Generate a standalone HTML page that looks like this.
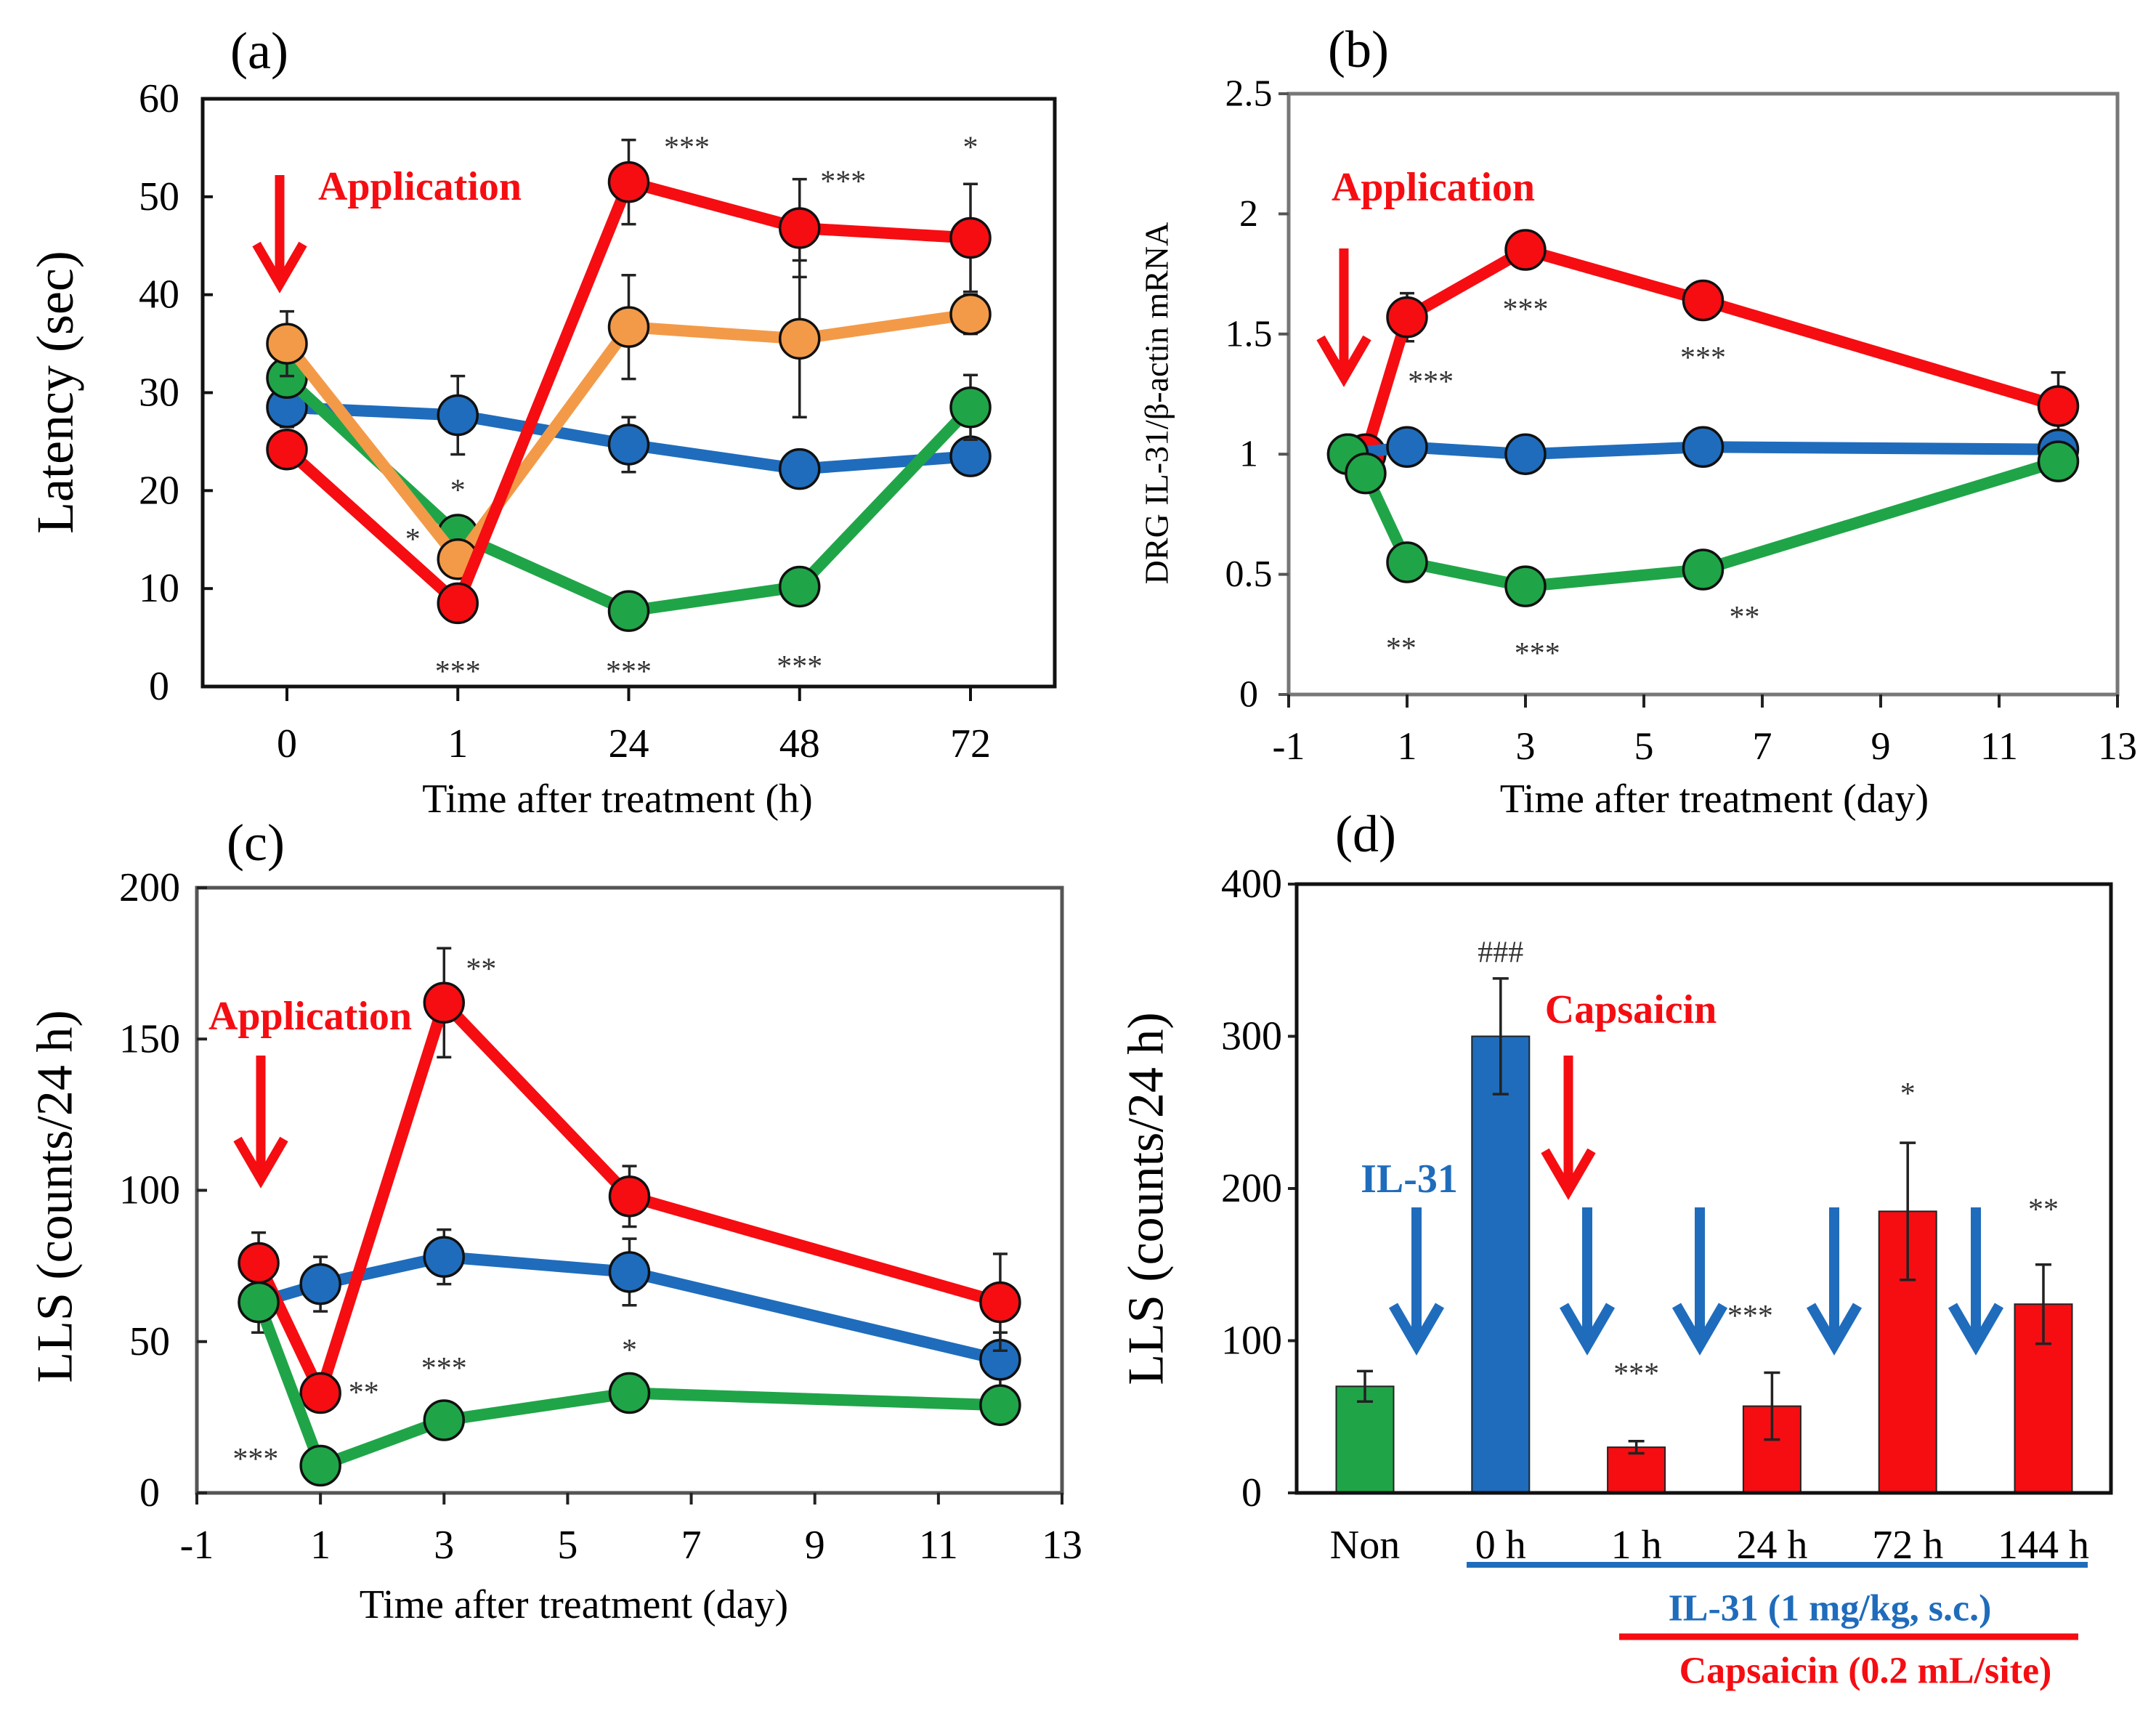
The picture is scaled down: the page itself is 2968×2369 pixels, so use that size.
<!DOCTYPE html>
<html><head><meta charset="utf-8"><style>
html,body{margin:0;padding:0;background:#fff;}
svg{display:block;}
text{font-family:"Liberation Serif",serif;}
</style></head><body>
<svg id="fig" width="2968" height="2369" viewBox="0 0 2968 2369" xmlns="http://www.w3.org/2000/svg"></svg>
<script>
// ---------- Panel (a) data ----------
const aCats = ["0","1","24","48","72"];
const aYTicks = [0,10,20,30,40,50,60];
const aBlue = [28.5,27.7,24.7,22.2,23.5];
const aBlueErr = [2,4,2.8,1,1];
const aGreen = [31.5,15.5,7.7,10.2,28.5];
const aGreenErr = [1,1,1,1,3.3];
const aOrange = [35,13,36.7,35.5,38];
const aOrangeErr = [3.3,1,5.3,8,2];
const aRed = [24.2,8.5,51.5,46.8,45.8];
const aRedErr = [1,1,4.3,5,5.5];
// ---------- Panel (b) data ----------
const bXTicks = [-1,1,3,5,7,9,11,13];
const bYTicks = [0,0.5,1,1.5,2,2.5];
const bYTickLabels = ["0","0.5","1","1.5","2","2.5"];
const bBlueX = [0,1,3,6,12];
const bBlue = [1.0,1.03,1.0,1.03,1.02];
const bGreenX = [0,0.3,1,3,6,12];
const bGreen = [1.0,0.92,0.55,0.45,0.52,0.97];
const bRedX = [0.3,1,3,6,12];
const bRed = [1.0,1.57,1.85,1.64,1.2];
const bRedErr = [0,0.1,0.02,0.02,0.14];
// ---------- Panel (c) data ----------
const cXTicks = [-1,1,3,5,7,9,11,13];
const cYTicks = [0,50,100,150,200];
const cX = [0,1,3,6,12];
const cBlue = [63,69,78,73,44];
const cBlueErr = [10,9,9,11,9];
const cGreen = [63,9,24,33,29];
const cRed = [76,33,162,98,63];
const cRedErr = [10,2,18,10,16];
// ---------- Panel (d) data ----------
const dCats = ["Non","0 h","1 h","24 h","72 h","144 h"];
const dVals = [70,300,30,57,185,124];
const dErrs = [10,38,4,22,45,26];
const dYTicks = [0,100,200,300,400];

const NS="http://www.w3.org/2000/svg";
const svg=document.getElementById('fig');
const RED="#f50d12",BLUE="#1f6cbc",GREEN="#1fa548",ORANGE="#f39a48";
const LW=16, MR=27, STAR=42, TICK=56;
function mk(tag,attrs,parent){const e=document.createElementNS(NS,tag);for(const k in attrs)e.setAttribute(k,attrs[k]);(parent||svg).appendChild(e);return e;}
function txt(s,x,y,size,attrs,parent){const t=mk('text',Object.assign({x:x,y:y,'font-size':size,'text-anchor':'middle','dominant-baseline':'central'},attrs||{}),parent);t.textContent=s;return t;}
function arrow(x,y1,y2,color,w,g){mk('line',{x1:x,y1:y1,x2:x,y2:y2-6,stroke:color,'stroke-width':w},g);mk('polyline',{points:(x-32)+','+(y2-55)+' '+x+','+y2+' '+(x+32)+','+(y2-55),fill:'none',stroke:color,'stroke-width':w},g);}
function series(g,xs,ys,errs,sx,sy,color,name){
  const sg=mk('g',{},g);
  
  
  if(errs){
    xs.forEach((x,i)=>{
      if(!errs[i])return;
      const px=sx(x);
      const e=mk('path',{d:'M'+px+','+sy(ys[i]-errs[i])+'V'+sy(ys[i]+errs[i])+'M'+(px-10)+','+sy(ys[i]+errs[i])+'h20M'+(px-10)+','+sy(ys[i]-errs[i])+'h20',stroke:'#222','stroke-width':3.5,fill:'none'},sg);
      
      
    });
  }
  const pl=mk('polyline',{points:xs.map((x,i)=>sx(x)+','+sy(ys[i])).join(' '),fill:'none',stroke:color,'stroke-width':LW,'stroke-linejoin':'round'},sg);
  
  
  xs.forEach((x,i)=>{
    const c=mk('circle',{cx:sx(x),cy:sy(ys[i]),r:MR,fill:color,stroke:'#111','stroke-width':3.5},sg);
    
    
  });
}
function frame(g,L,T,R,B,color){
  const f=mk('rect',{x:L,y:T,width:R-L,height:B-T,fill:'none',stroke:color,'stroke-width':5},g);
  
  
}

// ===== Panel a =====
(function(){
  const g=mk('g',{});
  
  
  const L=279,R=1452,T=136,B=945,x0=395,dx=235.25;
  const sx=i=>x0+i*dx, sy=v=>B-(v/60)*(B-T);
  frame(g,L,T,R,B,'#111');
  aYTicks.forEach(v=>{
    mk('line',{x1:L,x2:L+14,y1:sy(v),y2:sy(v),stroke:'#111','stroke-width':4},g);
    const t=txt(String(v),L-60,sy(v),TICK,{'font-family':'Liberation Sans, sans-serif'},g);
    
    
  });
  aCats.forEach((c,i)=>{
    mk('line',{x1:sx(i),x2:sx(i),y1:B,y2:B+20,stroke:'#111','stroke-width':4},g);
    const t=txt(c,sx(i),1024,TICK,{'font-family':'Liberation Sans, sans-serif'},g);
    
    
  });
  const idx=[0,1,2,3,4];
  series(g,idx,aBlue,aBlueErr,sx,sy,BLUE,'series-blue');
  series(g,idx,aGreen,aGreenErr,sx,sy,GREEN,'series-green');
  series(g,idx,aOrange,aOrangeErr,sx,sy,ORANGE,'series-orange');
  series(g,idx,aRed,aRedErr,sx,sy,RED,'series-red');
  [["***",sx(2)+80,sy(55)],["***",sx(3)+60,sy(51.5)],["*",sx(4),sy(55)],["*",sx(1),sy(20)],["*",sx(1)-62,sy(15)],["***",sx(1),sy(1.5)],["***",sx(2),sy(1.5)],["***",sx(3),sy(2)]].forEach(s=>{
    const t=txt(s[0],s[1],s[2],STAR,{fill:'#333'},g);
    
    
  });
  arrow(385,241,391,RED,13,g);
  const ap=txt("Application",578,257,56,{fill:RED,'font-weight':'bold'},g);
  
  
  const yt=txt("Latency (sec)",76,540,72,{transform:'rotate(-90 76 540)'},g);
  
  
  const xt=txt("Time after treatment (h)",850,1100,56,{},g);
  
  
  const pl=txt("(a)",357,70,72,{},g);
  
  
})();

// ===== Panel b =====
(function(){
  const g=mk('g',{});
  
  
  const L=1774,R=2915,T=129,B=956;
  const sx=v=>L+(v+1)/14*(R-L), sy=v=>B-(v/2.5)*(B-T);
  frame(g,L,T,R,B,'#777');
  bYTicks.forEach((v,i)=>{
    mk('line',{x1:L-14,x2:L,y1:sy(v),y2:sy(v),stroke:'#555','stroke-width':4},g);
    const t=txt(bYTickLabels[i],L-55,sy(v),52,{},g);
    
    
  });
  bXTicks.forEach(v=>{
    mk('line',{x1:sx(v),x2:sx(v),y1:B,y2:B+18,stroke:'#222','stroke-width':4},g);
    const t=txt(String(v),sx(v),1027,54,{},g);
    
    
  });
  series(g,bRedX,bRed,bRedErr,sx,sy,RED,'series-red');
  series(g,bBlueX,bBlue,null,sx,sy,BLUE,'series-blue');
  series(g,bGreenX,bGreen,null,sx,sy,GREEN,'series-green');
  [["***",1.4,1.3],["***",3,1.6],["***",6,1.4],["**",0.9,0.19],["***",3.2,0.17],["**",6.7,0.32]].forEach(s=>{
    const t=txt(s[0],sx(s[1]),sy(s[2]),STAR,{fill:'#333'},g);
    
    
  });
  arrow(1850,342,520,RED,13,g);
  const ap=txt("Application",1973,258,56,{fill:RED,'font-weight':'bold'},g);
  
  
  const yt=txt("DRG IL-31/β-actin mRNA",1592,555,46,{transform:'rotate(-90 1592 555)'},g);
  
  
  const xt=txt("Time after treatment (day)",2360,1100,56,{},g);
  
  
  const pl=txt("(b)",1870,68,72,{},g);
  
  
})();

// ===== Panel c =====
(function(){
  const g=mk('g',{});
  
  
  const L=271,R=1462,T=1222,B=2055;
  const sx=v=>L+(v+1)/14*(R-L), sy=v=>B-(v/200)*(B-T);
  frame(g,L,T,R,B,'#555');
  cYTicks.forEach(v=>{
    mk('line',{x1:L,x2:L+14,y1:sy(v),y2:sy(v),stroke:'#222','stroke-width':4},g);
    const t=txt(String(v),L-65,sy(v),TICK,{},g);
    
    
  });
  cXTicks.forEach(v=>{
    mk('line',{x1:sx(v),x2:sx(v),y1:B,y2:B+16,stroke:'#222','stroke-width':4},g);
    const t=txt(String(v),sx(v),2127,TICK,{},g);
    
    
  });
  series(g,cX,cBlue,cBlueErr,sx,sy,BLUE,'series-blue');
  series(g,cX,cRed,cRedErr,sx,sy,RED,'series-red');
  series(g,cX,cGreen,null,sx,sy,GREEN,'series-green');
  [["**",3.6,173],["**",1.7,33],["***",3.0,41],["*",6.0,47],["***",-0.05,11]].forEach(s=>{
    const t=txt(s[0],sx(s[1]),sy(s[2]),STAR,{fill:'#333'},g);
    
    
  });
  arrow(359,1453,1623,RED,13,g);
  const ap=txt("Application",427,1399,56,{fill:RED,'font-weight':'bold'},g);
  
  
  const yt=txt("LLS (counts/24 h)",76,1647,70,{transform:'rotate(-90 76 1647)'},g);
  
  
  const xt=txt("Time after treatment (day)",790,2209,56,{},g);
  
  
  const pl=txt("(c)",352,1160,72,{},g);
  
  
})();

// ===== Panel d =====
(function(){
  const g=mk('g',{});
  
  
  const L=1785,R=2906,T=1217,B=2055,c0=1879,dc=186.8,bw=79;
  const sx=i=>c0+i*dc, sy=v=>B-(v/400)*(B-T);
  const colors=[GREEN,BLUE,RED,RED,RED,RED];
  dYTicks.forEach(v=>{
    mk('line',{x1:L-12,x2:L,y1:sy(v),y2:sy(v),stroke:'#222','stroke-width':4},g);
    const t=txt(String(v),L-62,sy(v),TICK,{},g);
    
    
  });
  dVals.forEach((v,i)=>{
    const r=mk('rect',{x:sx(i)-bw/2,y:sy(v),width:bw,height:B-sy(v),fill:colors[i],stroke:'#222','stroke-width':2},g);
    
    
    const e=mk('path',{d:'M'+sx(i)+','+sy(v-dErrs[i])+'V'+sy(v+dErrs[i])+'M'+(sx(i)-11)+','+sy(v+dErrs[i])+'h22M'+(sx(i)-11)+','+sy(v-dErrs[i])+'h22',stroke:'#222','stroke-width':3.5,fill:'none'},g);
    
    
    const t=txt(dCats[i],sx(i),2127,TICK,{},g);
    
    
  });
  frame(g,L,T,R,B,'#111');
  [["###",1,355],["***",2,78],["***",3,116],["*",4,262],["**",5,186]].forEach(s=>{
    const t=txt(s[0],sx(s[1])+(s[1]==3?-30:0),sy(s[2]),STAR,{fill:'#333'},g);
    
    
  });
  [1950,2185,2340,2525,2720].forEach(x=>arrow(x,1662,1852,BLUE,14,g));
  arrow(2159,1453,1639,RED,13,g);
  const cl=txt("Capsaicin",2245,1390,56,{fill:RED,'font-weight':'bold'},g);
  
  
  const il=txt("IL-31",1940,1623,56,{fill:BLUE,'font-weight':'bold'},g);
  
  
  mk('line',{x1:2019,x2:2874,y1:2154,y2:2154,stroke:BLUE,'stroke-width':8},g);
  mk('line',{x1:2229,x2:2861,y1:2253,y2:2253,stroke:RED,'stroke-width':9},g);
  const l1=txt("IL-31 (1 mg/kg, s.c.)",2519,2214,52,{fill:BLUE,'font-weight':'bold'},g);
  
  
  const l2=txt("Capsaicin (0.2 mL/site)",2568,2300,52,{fill:RED,'font-weight':'bold'},g);
  
  
  const yt=txt("LLS (counts/24 h)",1578,1650,70,{transform:'rotate(-90 1578 1650)'},g);
  
  
  const pl=txt("(d)",1880,1148,72,{},g);
  
  
})();
</script>
</body></html>
